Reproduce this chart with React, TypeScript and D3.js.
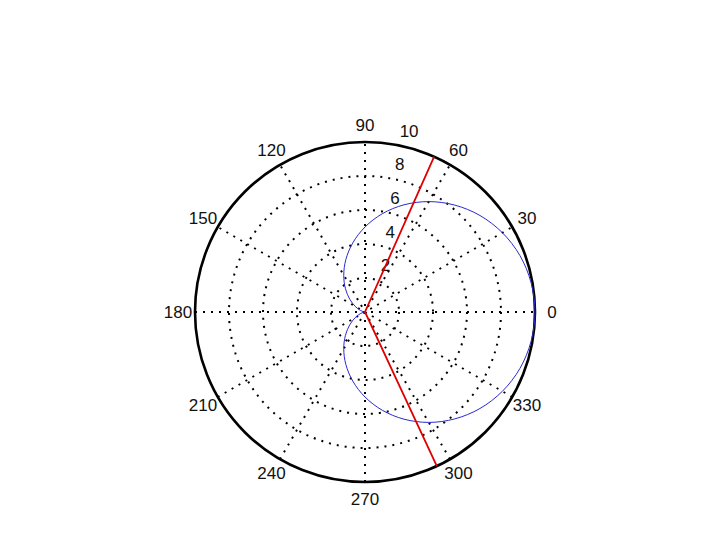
import React from "react";
import * as d3 from "d3";

const radialTicks = [2, 4, 6, 8, 10];
const angleTicks = [0, 30, 60, 90, 120, 150, 180, 210, 240, 270, 300, 330];
const spokeAngles = [0, 30, 60, 90, 120, 150];

// cardioid samples (theta in degrees, r)
const curveTheta = [0, 10, 20, 30, 40, 50, 60, 70, 80, 90, 100, 110, 120, 130, 140, 150, 160, 170, 180,
  190, 200, 210, 220, 230, 240, 250, 260, 270, 280, 290, 300, 310, 320, 330, 340, 350];
const curveR = [10, 9.92, 9.7, 9.33, 8.83, 8.21, 7.5, 6.71, 5.87, 5.0, 4.13, 3.29, 2.5, 1.79, 1.17, 0.67, 0.3, 0.08, 0,
  0.08, 0.3, 0.67, 1.17, 1.79, 2.5, 3.29, 4.13, 5.0, 5.87, 6.71, 7.5, 8.21, 8.83, 9.33, 9.7, 9.92];

// red line
const lineTheta = [66, 0, -65];
const lineR = [10, 0, 10];

const W = 720;
const H = 540;
const cx = 365;
const cy = 312;
const R = 170;
const rMax = 10;

export default function App() {
  const r = d3.scaleLinear().domain([0, rMax]).range([0, R]);
  const rad = (deg: number) => (deg * Math.PI) / 180;
  const px = (t: number, v: number) => cx + r(v) * Math.cos(rad(t));
  const py = (t: number, v: number) => cy - r(v) * Math.sin(rad(t));

  const curvePts: [number, number][] = curveTheta.map((t, i) => [px(t, curveR[i]), py(t, curveR[i])]);
  const curvePath = d3.line().curve(d3.curveCatmullRomClosed.alpha(0.5))(curvePts) || "";
  const redPts: [number, number][] = lineTheta.map((t, i) => [px(t, lineR[i]), py(t, lineR[i])]);
  const redPath = d3.line()(redPts) || "";

  const font = "'Liberation Sans', Arial, Helvetica, sans-serif";
  const dots = { stroke: "#000", strokeWidth: 2, strokeDasharray: "2 6", fill: "none" };

  return (
    <svg width={W} height={H} style={{ position: "absolute", left: 0, top: 0, background: "#fff" }}>
      <rect x={0} y={0} width={W} height={H} fill="#fff" />
      {radialTicks.slice(0, -1).map((v) => (
        <circle key={"c" + v} cx={cx} cy={cy} r={r(v)} {...dots} />
      ))}
      {spokeAngles.map((a) => (
        <line key={"s" + a} x1={px(a + 180, rMax)} y1={py(a + 180, rMax)} x2={px(a, rMax)} y2={py(a, rMax)} {...dots} />
      ))}
      <circle cx={cx} cy={cy} r={r(rMax)} fill="none" stroke="#000" strokeWidth={2.6} />
      {angleTicks.map((a) => (
        <text
          key={"a" + a}
          x={cx + r(rMax) * 1.1 * Math.cos(rad(a))}
          y={cy - r(rMax) * 1.1 * Math.sin(rad(a))}
          textAnchor="middle"
          dominantBaseline="central"
          fontFamily={font}
          fontSize={17}
          fill="#111"
        >
          {a}
        </text>
      ))}
      {radialTicks.map((v) => (
        <text
          key={"r" + v}
          x={px(82, v) + 11}
          y={py(82, v) - 12.4}
          textAnchor="start"
          dominantBaseline="central"
          fontFamily={font}
          fontSize={17}
          fill="#111"
        >
          {v}
        </text>
      ))}
      <path d={curvePath} fill="none" stroke="#2a2ad0" strokeWidth={1} />
      <path d={redPath} fill="none" stroke="#e00000" strokeWidth={1.8} />
    </svg>
  );
}
